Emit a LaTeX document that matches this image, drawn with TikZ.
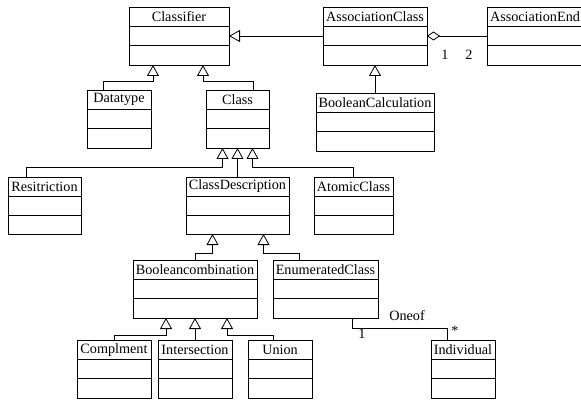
\documentclass[tikz,border=0pt]{standalone}
\usepackage{fontspec}
\setmainfont{Liberation Serif}
\newfontfamily\umlfont{Liberation Serif}
\usetikzlibrary{arrows.meta,calc}
\tikzset{
  cls/.style={draw, rectangle, inner sep=0pt, outer sep=0pt},
  ttl/.style={inner sep=0pt, font=\umlfont\fontsize{14.2}{16}\selectfont},
  lbl/.style={inner sep=0pt, font=\umlfont\fontsize{14.2}{16}\selectfont},
  gen/.style={-{Triangle[open,length=11pt,width=12pt]}},
  agg/.style={-{Diamond[open,length=13pt,width=9pt]}},
}
\newcommand\umlclass[6]{%
  \node[cls, minimum width=#4pt, minimum height=#5pt, anchor=north west] (#1) at (#2,#3) {};
  \node[ttl] (#1-t) at ($(#1.north)!1/6!(#1.south)$) {#6};
  \draw ($(#1.north west)!1/3!(#1.south west)$) -- ($(#1.north east)!1/3!(#1.south east)$);
  \draw ($(#1.north west)!2/3!(#1.south west)$) -- ($(#1.north east)!2/3!(#1.south east)$);
}
\begin{document}
\begin{tikzpicture}[x=1pt,y=-1pt,line width=0.8pt]
\path[use as bounding box, clip] (0,0) rectangle (581,401);
\umlclass{Classifier}{129}{7}{100}{58}{Classifier}
\umlclass{AssociationClass}{323}{7}{104}{58}{AssociationClass}
\umlclass{AssociationEnd}{487}{7}{96}{58}{AssociationEnd}
\umlclass{Datatype}{87}{90}{64}{58}{Datatype}
\umlclass{Class}{206}{90}{63}{58}{Class}
\umlclass{BooleanCalculation}{316}{93}{118}{58}{BooleanCalculation}
\umlclass{Resitriction}{8}{177}{73}{57}{Resitriction}
\umlclass{ClassDescription}{186}{177}{103}{57}{ClassDescription}
\umlclass{AtomicClass}{314}{177}{79}{57}{AtomicClass}
\umlclass{Booleancombination}{133}{260}{124}{58}{Booleancombination}
\umlclass{EnumeratedClass}{273}{260}{105}{58}{EnumeratedClass}
\umlclass{Complment}{77}{340}{74}{58}{Complment}
\umlclass{Intersection}{158}{340}{74}{58}{Intersection}
\umlclass{Union}{248}{340}{64}{58}{Union}
\umlclass{Individual}{431}{340}{64}{58}{Individual}

\draw[gen] (AssociationClass.west) -- (Classifier.east);
\draw[agg] (AssociationEnd.west) -- (AssociationClass.east);
\draw[gen] (BooleanCalculation.north) -- (AssociationClass.south);
\draw[gen] ([xshift=-16pt]Datatype.north) -- ++(0,-9) -| ([xshift=-26pt]Classifier.south);
\draw[gen] ([xshift=15.5pt]Class.north) -- ++(0,-9) -| ([xshift=24pt]Classifier.south);
\draw[gen] ([xshift=-18.5pt]Resitriction.north) -- ++(0,-10) -| ([xshift=-15pt]Class.south);
\draw[gen] (ClassDescription.north) -- (Class.south);
\draw[gen] ([xshift=-0.5pt]AtomicClass.north) -- ++(0,-10) -| ([xshift=15pt]Class.south);
\draw[gen] (Booleancombination.north) -- ++(0,-7) -| ([xshift=-25pt]ClassDescription.south);
\draw[gen] ([xshift=-26.5pt]EnumeratedClass.north) -- ++(0,-7) -| ([xshift=26pt]ClassDescription.south);
\draw[gen] (Complment.north) -- ++(0,-5) -| ([xshift=-29pt]Booleancombination.south);
\draw[gen] (Intersection.north) -- (Booleancombination.south);
\draw[gen] ([xshift=-7pt]Union.north) -- ++(0,-5) -| ([xshift=32pt]Booleancombination.south);
\draw ([xshift=26.5pt]EnumeratedClass.south) -- ++(0,10) -| ([xshift=-16pt]Individual.north);

\node[lbl] (m1) at (445,55) {1};
\node[lbl] (m2) at (469,55) {2};
\node[lbl] (oneof) at (407,316) {Oneof};
\node[lbl] (one) at (362,334) {1};
\node[lbl] (many) at (455,331) {*};
\end{tikzpicture}
\end{document}
